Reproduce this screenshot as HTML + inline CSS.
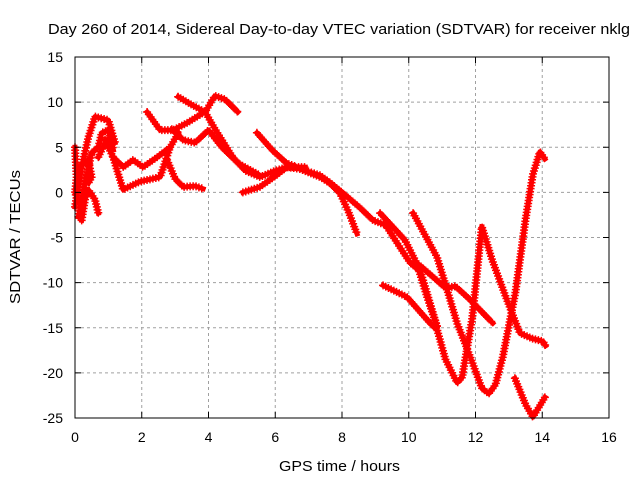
<!DOCTYPE html>
<html><head><meta charset="utf-8"><style>
body{margin:0;background:#fff}
svg{display:block;font-family:"Liberation Sans",sans-serif}
</style></head><body>
<svg id="c" width="640" height="480">
<text x="48" y="34" font-size="15" textLength="582" lengthAdjust="spacingAndGlyphs">Day 260 of 2014, Sidereal Day-to-day VTEC variation (SDTVAR) for receiver nklg</text>
<text x="279" y="471" font-size="15" textLength="121" lengthAdjust="spacingAndGlyphs">GPS time / hours</text>
<text transform="translate(20,237) rotate(-90)" font-size="15" text-anchor="middle" textLength="134" lengthAdjust="spacingAndGlyphs">SDTVAR / TECUs</text>
<g id="grid"></g><g id="marks"></g><g id="axes"></g>
</svg>
<script>
const xTicks=[0,2,4,6,8,10,12,14,16];
const yTicks=[-25,-20,-15,-10,-5,0,5,10,15];
const track1=[[3.09,10.6],[3.5,9.7],[3.9,8.9],[4.19,10.7],[4.5,10.3],[4.88,8.9]];
const track2=[[3.9,8.9],[4.2,7.0],[4.73,3.9],[5.1,2.4],[5.54,1.7],[6.0,2.4],[6.35,2.8],[6.74,2.6],[7.34,1.7],[7.64,1.0],[7.94,-0.1],[8.2,-2.2],[8.45,-4.6]];
const track3=[[6.74,2.6],[7.34,1.9],[7.64,1.1],[8.0,0.0],[8.54,-1.7],[8.93,-3.1],[9.3,-3.6],[9.65,-5.6],[10.04,-7.8],[10.3,-8.6],[10.55,-11.6],[10.85,-14.9]];
const track4=[[2.9,7.0],[3.24,5.8],[3.6,5.5],[4.0,6.9],[4.4,5.0],[4.9,3.2],[5.54,1.9]];
const track5=[[2.16,8.9],[2.55,6.9],[2.94,6.9],[3.36,7.7],[3.84,8.8]];
const track6=[[2.76,3.6],[3.0,1.5],[3.24,0.6],[3.6,0.7],[3.84,0.4]];
const track7=[[1.14,3.9],[1.44,0.3],[1.95,1.2],[2.55,1.7],[2.85,5.0],[3.1,6.6]];
const track8=[[0.9,5.8],[1.14,3.9],[1.45,2.8],[1.74,3.6],[2.04,2.8],[2.46,3.9],[2.85,5.0]];
const track9=[[5.45,6.6],[5.93,4.6],[6.35,3.2],[6.6,2.9]];
const track10=[[5.03,0.0],[5.54,0.6],[6.0,1.8],[6.35,2.8],[6.9,2.8]];
const track11=[[9.23,-10.3],[9.95,-11.6],[10.64,-14.5],[10.85,-15.2],[11.1,-18.5],[11.45,-21.1],[11.6,-20.5],[11.9,-14],[12.19,-3.8]];
const track12=[[10.3,-8.0],[10.8,-9.6],[11.1,-10.6],[11.4,-10.4],[11.84,-11.9],[12.52,-14.5]];
const track13=[[10.13,-2.3],[10.85,-7.2],[11.15,-10.8],[11.45,-14.5],[11.84,-18.2],[12.19,-21.7],[12.4,-22.3],[12.6,-21.3],[12.82,-18.2],[13.2,-11],[13.5,-3],[13.72,2],[13.93,4.5],[14.08,3.7]];
const track14=[[12.2,-3.9],[12.5,-7.5],[12.94,-11.9],[13.33,-15.6],[13.7,-16.2],[14.02,-16.5],[14.1,-17]];
const track15=[[13.18,-20.6],[13.5,-23.5],[13.72,-24.9],[14.08,-22.7]];
const track16=[[9.14,-2.3],[9.89,-5.3],[10.34,-8.6],[10.85,-14.9]];
const track17=[[0,-1.6],[0.2,2.8],[0.4,6.1],[0.6,8.4],[1.0,8.0],[1.2,5.5]];
const track18=[[0.1,-2.7],[0.3,1.0],[0.5,4.4],[0.7,5.0],[0.8,6.6],[1.0,6.9],[1.15,4.7]];
const track19=[[0.2,-3.1],[0.3,-0.8],[0.4,0.3],[0.6,-0.8],[0.7,-2.3]];
const track20=[[0,5],[0.05,1.7],[0,-0.1],[0.15,-1.2]];
const track21=[[0.1,2.8],[0.4,3.6],[0.5,1.7],[0.4,1.0]];
const track22=[[0.7,3.9],[0.9,5.5],[1.05,6.1]];
const tracks=[track1,track2,track3,track4,track5,track6,track7,track8,track9,track10,track11,track12,track13,track14,track15,track16,track17,track18,track19,track20,track21,track22];
const X0=75,X1=609,Y0=418,Y1=57;
const xs=h=>X0+(h-0)/(16-0)*(X1-X0);
const ys=v=>Y0-(v+25)/(40)*(Y0-Y1);
const NS="http://www.w3.org/2000/svg";
const grid=document.getElementById('grid'),axes=document.getElementById('axes'),marks=document.getElementById('marks');
function mk(t,a,p){const e=document.createElementNS(NS,t);for(const k in a)e.setAttribute(k,a[k]);p.appendChild(e);return e;}
xTicks.forEach(t=>{const x=xs(t);
 if(t>0&&t<16){const g=mk('line',{x1:x,x2:x,y1:Y1,y2:Y0,stroke:'#a0a0a0','stroke-dasharray':'3,3'},grid);
 
 }
 mk('line',{x1:x,x2:x,y1:Y0,y2:Y0-6,stroke:'#000'},axes);
 mk('line',{x1:x,x2:x,y1:Y1,y2:Y1+6,stroke:'#000'},axes);
 const l=mk('text',{x:x,y:Y0+24,'font-size':14,'text-anchor':'middle'},axes);l.textContent=t;
 
 });
yTicks.forEach(t=>{const y=ys(t);
 if(t>-25&&t<15){const g=mk('line',{x1:X0,x2:X1,y1:y,y2:y,stroke:'#a0a0a0','stroke-dasharray':'3,3'},grid);
 
 }
 mk('line',{x1:X0,x2:X0+6,y1:y,y2:y,stroke:'#000'},axes);
 mk('line',{x1:X1,x2:X1-6,y1:y,y2:y,stroke:'#000'},axes);
 const l=mk('text',{x:X0-12,y:y+5,'font-size':14,'text-anchor':'end'},axes);l.textContent=t;
 
 });
const fr=mk('rect',{x:X0,y:Y1,width:X1-X0,height:Y0-Y1,fill:'none',stroke:'#000'},axes);


tracks.forEach((tr,i)=>{
 const pts=tr.map(p=>xs(p[0])+','+ys(p[1])).join(' ');
 const pl=mk('polyline',{points:pts,fill:'none',stroke:'#ff0000','stroke-width':5,'stroke-linejoin':'round','stroke-linecap':'square'},marks);
 
 
 const L=pl.getTotalLength();let d='';
 for(let s=0;s<=L;s+=3){const p=pl.getPointAtLength(s);d+=`M${p.x-4},${p.y}h8M${p.x},${p.y-4}v8`;}
 const m=mk('path',{d:d,stroke:'#ff0000','stroke-width':1.5,fill:'none'},marks);
 
 
});
</script>
</body></html>
